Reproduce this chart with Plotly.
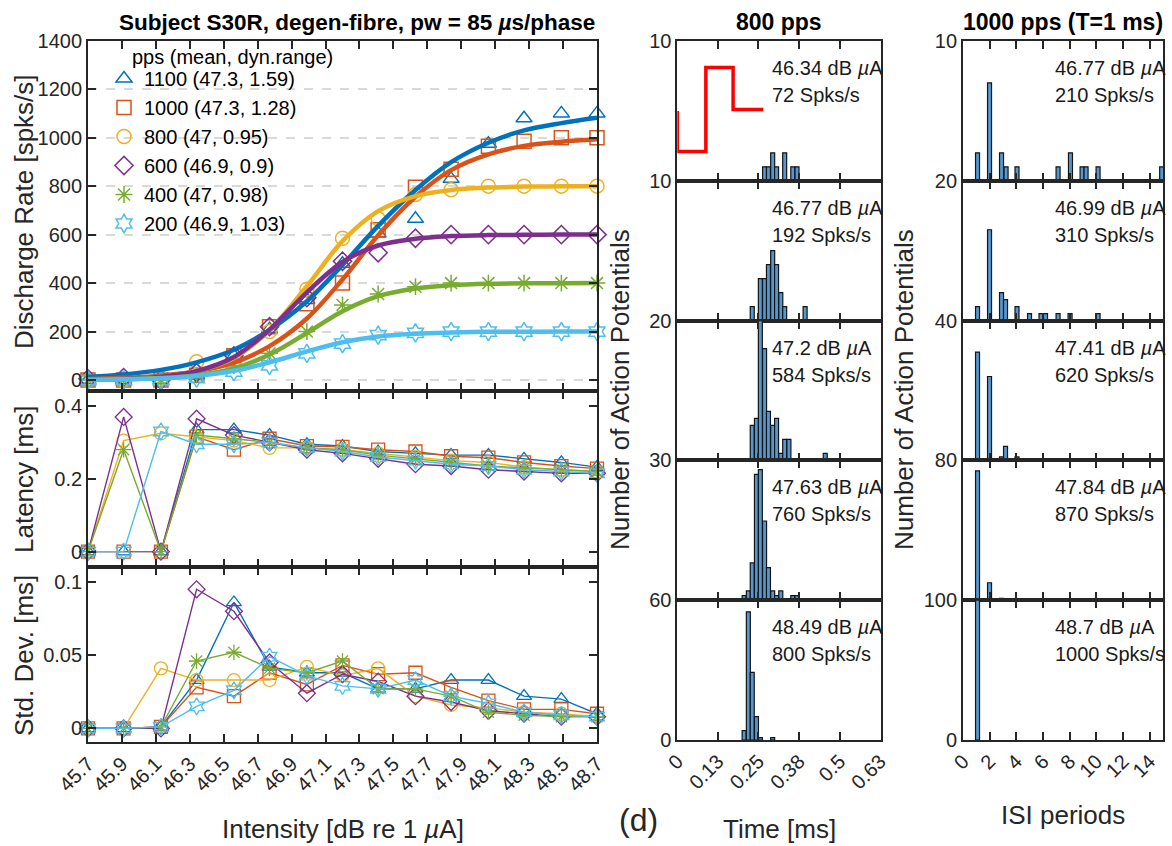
import plotly.graph_objects as go

W, H = 1172, 846
FONT = "Liberation Sans, Arial, sans-serif"
INK = "#262626"

# ---------------- data ----------------
legend_title = "pps (mean, dyn.range)"
pps_labels = ["1100 (47.3, 1.59)", "1000 (47.3, 1.28)", "800 (47, 0.95)",
              "600 (46.9, 0.9)", "400 (47, 0.98)", "200 (46.9, 1.03)"]
colors = ["#0072BD", "#D95319", "#EDB120", "#7E2F8E", "#77AC30", "#4DBEEE"]
symbols = ["triangle-up-open", "square-open", "circle-open", "diamond-open",
           "asterisk-open", "hexagram-open"]

intensity = [45.70, 45.91, 46.13, 46.34, 46.56, 46.77, 46.99, 47.20,
             47.41, 47.63, 47.84, 48.06, 48.27, 48.49, 48.70]
x_tickvals = [45.7, 45.9, 46.1, 46.3, 46.5, 46.7, 46.9, 47.1,
              47.3, 47.5, 47.7, 47.9, 48.1, 48.3, 48.5, 48.7]
x_ticktext = ["45.7", "45.9", "46.1", "46.3", "46.5", "46.7", "46.9", "47.1",
              "47.3", "47.5", "47.7", "47.9", "48.1", "48.3", "48.5", "48.7"]

rate_1100 = [0, 0, 0, 20, 100, 210, 330, 480, 605, 665, 830, 975, 1080, 1100, 1100]
rate_1000 = [0, 0, 0, 20, 100, 220, 315, 400, 620, 795, 870, 965, 985, 1000, 1000]
rate_800 = [0, 0, 10, 75, 100, 200, 375, 585, 665, 765, 785, 800, 800, 800, 800]
rate_600 = [5, 10, 0, 30, 100, 220, 340, 490, 525, 585, 600, 600, 600, 600, 600]
rate_400 = [0, 0, 0, 20, 60, 110, 200, 310, 355, 385, 400, 400, 400, 400, 400]
rate_200 = [0, 0, 0, 8, 35, 60, 110, 150, 185, 195, 200, 200, 200, 200, 200]

fit_1100 = [13, 23, 42, 73, 125, 207, 325, 475, 636, 784, 899, 979, 1030, 1060, 1082]
fit_1000 = [4, 9, 18, 36, 72, 140, 254, 415, 597, 756, 866, 931, 966, 983, 993]
fit_800 = [2, 5, 14, 37, 91, 206, 387, 573, 697, 759, 784, 794, 798, 799, 800]
fit_600 = [2, 5, 14, 37, 95, 208, 362, 487, 555, 583, 594, 598, 599, 600, 600]
fit_400 = [1, 3, 8, 20, 48, 105, 194, 284, 346, 378, 391, 397, 399, 399, 400]
fit_200 = [1, 3, 7, 17, 38, 73, 118, 156, 180, 191, 196, 199, 199, 200, 200]

lat_1100 = [0, 0, 0, 0.335, 0.335, 0.32, 0.295, 0.29, 0.275, 0.27, 0.265, 0.265, 0.255, 0.245, 0.232]
lat_1000 = [0, 0, 0, 0.315, 0.28, 0.31, 0.29, 0.288, 0.28, 0.275, 0.262, 0.258, 0.245, 0.235, 0.228]
lat_800 = [0, 0.305, 0.325, 0.315, 0.305, 0.285, 0.285, 0.28, 0.27, 0.26, 0.25, 0.245, 0.232, 0.225, 0.22]
lat_600 = [0, 0.37, 0, 0.365, 0.32, 0.3, 0.28, 0.27, 0.255, 0.24, 0.235, 0.225, 0.22, 0.215, 0.215]
lat_400 = [0, 0.28, 0, 0.32, 0.31, 0.3, 0.285, 0.28, 0.265, 0.255, 0.245, 0.235, 0.23, 0.225, 0.22]
lat_200 = [0, 0, 0.33, 0.295, 0.295, 0.3, 0.285, 0.275, 0.26, 0.25, 0.24, 0.235, 0.225, 0.22, 0.215]

sd_1100 = [0, 0, 0.001, 0.033, 0.086, 0.042, 0.038, 0.038, 0.027, 0.027, 0.033, 0.033, 0.022, 0.02, 0.01]
sd_1000 = [0, 0, 0.001, 0.028, 0.022, 0.038, 0.03, 0.043, 0.037, 0.038, 0.028, 0.019, 0.013, 0.013, 0.01]
sd_800 = [0, 0, 0.041, 0.033, 0.033, 0.033, 0.042, 0.036, 0.041, 0.022, 0.016, 0.014, 0.011, 0.01, 0.008]
sd_600 = [0, 0, 0, 0.095, 0.08, 0.045, 0.024, 0.037, 0.032, 0.022, 0.018, 0.012, 0.01, 0.008, 0.008]
sd_400 = [0, 0, 0.001, 0.046, 0.052, 0.041, 0.038, 0.046, 0.027, 0.027, 0.022, 0.011, 0.009, 0.008, 0.008]
sd_200 = [0, 0, 0.001, 0.015, 0.026, 0.049, 0.036, 0.029, 0.027, 0.033, 0.022, 0.017, 0.011, 0.009, 0.008]

rates = [rate_1100, rate_1000, rate_800, rate_600, rate_400, rate_200]
fits = [fit_1100, fit_1000, fit_800, fit_600, fit_400, fit_200]
lats = [lat_1100, lat_1000, lat_800, lat_600, lat_400, lat_200]
sds = [sd_1100, sd_1000, sd_800, sd_600, sd_400, sd_200]

# 800 pps post-stimulus time histograms (bin centre in ms, counts)
psth_t1 = [0.269, 0.281, 0.294, 0.306, 0.331, 0.356, 0.369]
psth_n1 = [1, 1, 2, 1, 2, 1, 1]
psth_t2 = [0.231, 0.256, 0.269, 0.281, 0.294, 0.306, 0.319, 0.331, 0.394]
psth_n2 = [1, 3, 3, 4, 5, 4, 2, 1, 1]
psth_t3 = [0.231, 0.244, 0.256, 0.269, 0.281, 0.294, 0.306, 0.319, 0.331, 0.344, 0.456]
psth_n3 = [5, 6, 20, 16, 7, 5, 6, 1, 3, 3, 1]
psth_t4 = [0.206, 0.219, 0.231, 0.244, 0.256, 0.269, 0.281, 0.294, 0.306, 0.319, 0.356, 0.369]
psth_n4 = [1, 2, 8, 27, 28, 17, 7, 2, 1, 2, 1, 1]
psth_t5 = [0.206, 0.219, 0.231, 0.244, 0.256, 0.294]
psth_n5 = [4, 55, 29, 10, 1, 1]
psth_ymax = [10, 10, 20, 30, 60]
psth_text = [("46.34 dB <i>µ</i>A", "72 Spks/s"), ("46.77 dB <i>µ</i>A", "192 Spks/s"),
             ("47.2 dB <i>µ</i>A", "584 Spks/s"), ("47.63 dB <i>µ</i>A", "760 Spks/s"),
             ("48.49 dB <i>µ</i>A", "800 Spks/s")]
time_tickvals = [0, 0.125, 0.25, 0.375, 0.5, 0.625]
time_ticktext = ["0", "0.13", "0.25", "0.38", "0.5", "0.63"]

# stimulus waveform drawn in the first 800 pps panel
stim_t = [0, 0, 0.088, 0.088, 0.172, 0.172, 0.265]
stim_y = [5.0, 2.1, 2.1, 8.1, 8.1, 5.1, 5.1]

# 1000 pps inter-spike-interval histograms (ISI in periods, counts)
isi_p1 = [1.09, 1.99, 2.89, 3.23, 4.05, 7.13, 8.06, 8.93, 9.23, 10.13, 14.9]
isi_n1 = [2, 7, 2, 1, 1, 1, 2, 1, 1, 1, 1]
isi_p2 = [1.09, 1.99, 2.89, 3.19, 4.05, 4.99, 5.85, 6.19, 7.13, 8.03, 10.13]
isi_n2 = [2, 13, 4, 3, 2, 1, 1, 1, 1, 1, 1]
isi_p3 = [1.09, 1.99, 2.89, 3.19, 4.05]
isi_n3 = [31, 24, 1, 4, 1]
isi_p4 = [1.09, 1.99, 2.89]
isi_n4 = [74, 10, 1]
isi_p5 = [1.09]
isi_n5 = [100]
isi_ymax = [10, 20, 40, 80, 100]
isi_text = [("46.77 dB <i>µ</i>A", "210 Spks/s"), ("46.99 dB <i>µ</i>A", "310 Spks/s"),
            ("47.41 dB <i>µ</i>A", "620 Spks/s"), ("47.84 dB <i>µ</i>A", "870 Spks/s"),
            ("48.7 dB <i>µ</i>A", "1000 Spks/s")]
isi_tickvals = [0, 2, 4, 6, 8, 10, 12, 14]

psth_t = [psth_t1, psth_t2, psth_t3, psth_t4, psth_t5]
psth_n = [psth_n1, psth_n2, psth_n3, psth_n4, psth_n5]
isi_p = [isi_p1, isi_p2, isi_p3, isi_p4, isi_p5]
isi_n = [isi_n1, isi_n2, isi_n3, isi_n4, isi_n5]

# ---------------- layout helpers ----------------
def xd(a, b):
    return [a / W, b / W]

def yd(top, bot):
    return [1 - bot / H, 1 - top / H]

LX = (88, 597)
MX = (677.3, 880.7)
RX = (963, 1163)
hist_tops = [41, 180.8, 320.6, 460.4, 600.2]
hist_h = 139.8

tickfont = dict(family=FONT, size=20, color=INK)

def base_axis(**kw):
    d = dict(showline=True, linecolor=INK, linewidth=1.8, mirror="ticks",
             ticks="inside", ticklen=8, tickwidth=1.5, tickcolor=INK,
             showgrid=False, zeroline=False, tickfont=tickfont, automargin=False)
    d.update(kw)
    return d

fig = go.Figure()
layout = {}

# ---------------- left column ----------------
layout["xaxis"] = base_axis(domain=xd(*LX), anchor="y", range=[45.7, 48.7],
                            tickvals=x_tickvals, showticklabels=False)
layout["yaxis"] = base_axis(domain=yd(40.7, 390.7), anchor="x", range=[-44, 1400],
                            tickvals=[0, 200, 400, 600, 800, 1000, 1200, 1400],
                            showgrid=True, gridcolor="#d9d9d9", gridwidth=1.5,
                            griddash="dash")
layout["xaxis2"] = base_axis(domain=xd(*LX), anchor="y2", range=[45.7, 48.7],
                             tickvals=x_tickvals, showticklabels=False)
layout["yaxis2"] = base_axis(domain=yd(390.7, 567.3), anchor="x2", range=[-0.043, 0.442],
                             tickvals=[0, 0.2, 0.4], ticktext=["0", "0.2", "0.4"])
layout["xaxis3"] = base_axis(domain=xd(*LX), anchor="y3", range=[45.7, 48.7],
                             tickvals=x_tickvals, ticktext=x_ticktext, tickangle=-45)
layout["yaxis3"] = base_axis(domain=yd(567.3, 742.3), anchor="x3", range=[-0.0095, 0.11],
                             tickvals=[0, 0.05, 0.1], ticktext=["0", "0.05", "0.1"])

for i in range(6):
    mk = dict(symbol=symbols[i], size=14, color=colors[i],
              line=dict(width=1.5, color=colors[i]))
    fig.add_trace(go.Scatter(x=intensity, y=rates[i], mode="markers", marker=mk,
                             name=pps_labels[i], xaxis="x", yaxis="y",
                             cliponaxis=False, showlegend=True))
for i in range(6):
    fig.add_trace(go.Scatter(x=intensity, y=fits[i], mode="lines",
                             line=dict(color=colors[i], width=4.5, shape="spline"),
                             xaxis="x", yaxis="y", showlegend=False, hoverinfo="skip"))
for i in range(6):
    mk = dict(symbol=symbols[i], size=13, color=colors[i],
              line=dict(width=1.3, color=colors[i]))
    fig.add_trace(go.Scatter(x=intensity, y=lats[i], mode="lines+markers", marker=mk,
                             line=dict(color=colors[i], width=1.4),
                             xaxis="x2", yaxis="y2", cliponaxis=False, showlegend=False))
    fig.add_trace(go.Scatter(x=intensity, y=sds[i], mode="lines+markers", marker=mk,
                             line=dict(color=colors[i], width=1.4),
                             xaxis="x3", yaxis="y3", cliponaxis=False, showlegend=False))

# ---------------- histogram columns ----------------
BAR = "#5598d0"
annotations = []
for i in range(5):
    top = hist_tops[i]
    bot = top + hist_h
    last = (i == 4)
    mi, ri = 4 + i, 9 + i
    layout[f"xaxis{mi}"] = base_axis(domain=xd(*MX), anchor=f"y{mi}", range=[0, 0.627],
                                     tickvals=time_tickvals, ticktext=time_ticktext,
                                     showticklabels=last, tickangle=-45)
    layout[f"yaxis{mi}"] = base_axis(domain=yd(top, bot), anchor=f"x{mi}",
                                     range=[0, psth_ymax[i]], ticks="",
                                     tickvals=([0] if last else []) + [psth_ymax[i]])
    layout[f"xaxis{ri}"] = base_axis(domain=xd(*RX), anchor=f"y{ri}", range=[0, 15],
                                     tickvals=isi_tickvals, showticklabels=last,
                                     tickangle=-45)
    layout[f"yaxis{ri}"] = base_axis(domain=yd(top, bot), anchor=f"x{ri}",
                                     range=[0, isi_ymax[i]], ticks="",
                                     tickvals=([0] if last else []) + [isi_ymax[i]])
    fig.add_trace(go.Bar(x=psth_t[i], y=psth_n[i], width=0.0123,
                         marker=dict(color=BAR, line=dict(color="#141414", width=1.2)),
                         xaxis=f"x{mi}", yaxis=f"y{mi}", showlegend=False))
    fig.add_trace(go.Bar(x=isi_p[i], y=isi_n[i], width=0.3,
                         marker=dict(color=BAR, line=dict(color="#141414", width=1.2)),
                         xaxis=f"x{ri}", yaxis=f"y{ri}", showlegend=False))
    for xs, txt in ((770, psth_text[i]), (1053, isi_text[i])):
        for j, t in enumerate(txt):
            annotations.append(dict(x=xs / W, y=1 - (top + 27 + 27 * j) / H,
                                    xref="paper", yref="paper", text=t, showarrow=False,
                                    xanchor="left", yanchor="middle",
                                    font=dict(family=FONT, size=20, color="#1a1a1a")))

fig.add_trace(go.Scatter(x=stim_t, y=stim_y, mode="lines",
                         line=dict(color="#ff0000", width=3.5),
                         xaxis="x4", yaxis="y4", showlegend=False))

# ---------------- titles & labels ----------------
def label(text, x, y, size=26, angle=0, bold=False, anchor="center", color=None):
    annotations.append(dict(x=x / W, y=1 - y / H, xref="paper", yref="paper",
                            text=f"<b>{text}</b>" if bold else text, showarrow=False,
                            xanchor=anchor, yanchor="middle", textangle=angle,
                            font=dict(family=FONT, size=size,
                                      color=color or ("#000000" if bold else INK))))

label("Subject S30R, degen-fibre, pw = 85 <i>µ</i>s/phase", 357, 22, size=22.5, bold=True)
label("800 pps", 779, 22, size=23, bold=True)
label("1000 pps (T=1 ms)", 1063, 22, size=23, bold=True)
label(legend_title, 130, 57, size=20, anchor="left", color="#000000")
label("Discharge Rate [spks/s]", 24, 212, angle=-90)
label("Latency [ms]", 24, 480, angle=-90)
label("Std. Dev. [ms]", 24, 656, angle=-90)
label("Intensity [dB re 1 <i>µ</i>A]", 342.5, 829)
label("Number of Action Potentials", 620, 390, angle=-90)
label("Number of Action Potentials", 904, 390, angle=-90)
label("Time [ms]", 779, 829)
label("ISI periods", 1063, 815)
label("(d)", 639, 820, size=32)

fig.update_layout(
    width=W, height=H, margin=dict(l=0, r=0, t=0, b=0),
    paper_bgcolor="white", plot_bgcolor="white",
    annotations=annotations,
    legend=dict(x=104 / W, y=1 - 59 / H, xanchor="left", yanchor="top",
                bgcolor="rgba(0,0,0,0)", font=dict(family=FONT, size=20, color="#000000"),
                tracegroupgap=0, itemwidth=30),
    font=dict(family=FONT),
    **layout,
)

fig.write_html("out.html")
